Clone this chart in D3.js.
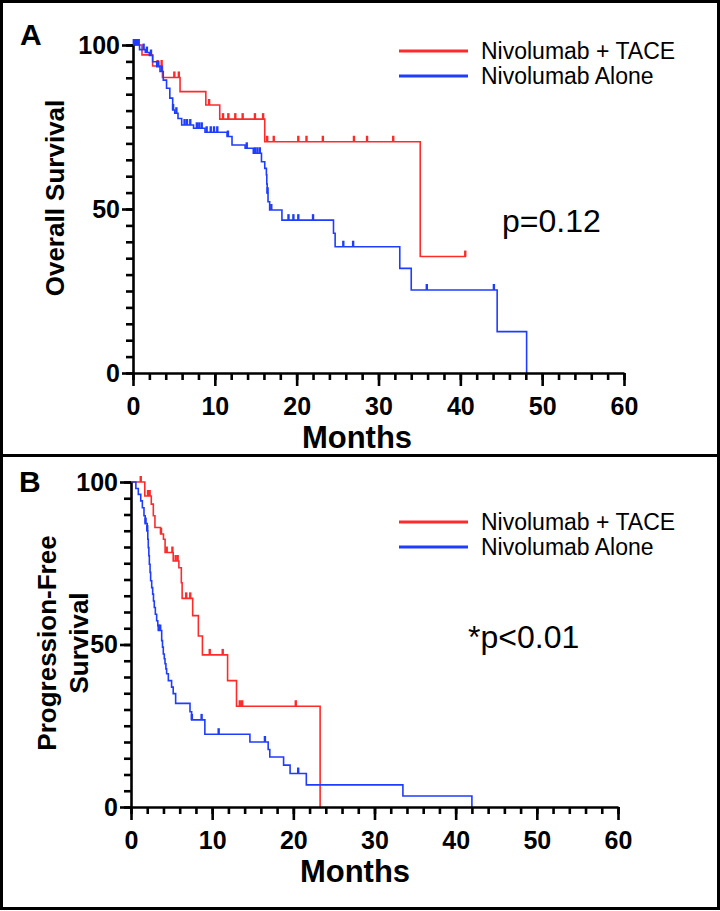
<!DOCTYPE html>
<html><head><meta charset="utf-8">
<script src="https://cdn.jsdelivr.net/npm/d3@7/dist/d3.min.js"></script>
<style>
html,body{margin:0;padding:0;background:#fff;}
svg{display:block;font-family:"Liberation Sans",Arial,Helvetica,sans-serif;}
</style></head>
<body>
<svg id="chart" width="720" height="911"></svg>
<script>
// ---------- DATA ----------
const seriesNames = ["Nivolumab + TACE", "Nivolumab Alone"];
const xTickLabels = [0, 10, 20, 30, 40, 50, 60];
const yTickLabels = [0, 50, 100];

// Panel A: Overall survival  [month, survival % after event]
const osTaceEvents = [[1.1,97.0],[2.4,93.6],[3.6,90.1],[5.75,85.8],[8.9,81.7],[10.6,77.4],[16.1,70.5],[35.1,35.5]];
const osTaceCensor = [3.0,3.5,5.05,5.6,9.3,11.0,11.65,12.5,13.4,14.9,15.9,16.4,17.2,20.2,21.2,23.2,27.0,28.6,31.8,40.6];
const osTaceEnd = 40.7;

const osAloneEvents = [[0.8,98.6],[1.5,97.7],[2.0,96.8],[2.4,94.9],[2.9,93.4],[3.3,91.9],[3.7,89.3],[4.1,86.8],[4.5,83.8],[4.85,80.2],[5.1,79.2],[5.5,77.6],[5.95,75.6],[7.4,74.6],[8.8,73.4],[11.5,72.1],[12.1,69.5],[13.7,68.5],[14.7,67.0],[15.7,64.4],[16.1,62.4],[16.3,60.4],[16.35,57.6],[16.4,54.8],[16.5,52.2],[16.7,49.7],[18.2,46.6],[24.5,42.6],[24.7,38.5],[32.6,31.9],[34.0,25.3],[44.5,12.6],[48.1,0]];
const osAloneCensor = [0.1,0.3,0.5,0.7,1.3,1.7,2.2,3.1,3.5,4.9,5.3,6.3,6.6,7.0,7.8,8.1,8.4,9.0,9.5,9.9,10.3,11.6,13.9,14.9,15.2,15.5,16.45,16.9,19.0,19.6,20.2,22.0,25.7,26.9,35.9,44.1];
const osAloneEnd = 48.1;

// Panel B: Progression-free survival
const pfsTaceEvents = [[1.7,95.7],[2.5,93.2],[2.75,89.6],[2.95,86.0],[3.65,84.0],[4.0,82.4],[4.2,78.3],[5.2,75.7],[5.9,73.6],[6.2,69.0],[6.3,64.2],[7.6,58.9],[8.3,52.6],[8.8,46.8],[11.9,38.9],[13.0,31.0],[23.3,0]];
const pfsTaceCensor = [1.2,2.1,2.3,3.7,4.4,5.1,5.5,5.75,6.8,7.3,9.7,11.3,13.4,13.7,20.3];
const pfsTaceEnd = 23.3;

const pfsAloneEvents = [[0.6,98.0],[0.9,96.2],[1.2,94.2],[1.4,92.1],[1.6,89.6],[1.75,87.2],[2.0,84.9],[2.07,82.4],[2.13,79.8],[2.2,77.3],[2.26,74.7],[2.35,72.2],[2.42,69.6],[2.55,67.5],[2.67,65.5],[2.77,63.4],[2.87,61.4],[3.0,59.3],[3.16,57.3],[3.3,55.8],[3.37,54.3],[3.78,51.2],[3.88,49.2],[3.98,47.1],[4.1,45.6],[4.19,44.1],[4.3,42.5],[4.39,41.0],[4.6,38.9],[5.0,36.9],[5.2,34.9],[5.5,31.9],[7.27,29.3],[7.47,26.8],[9.1,22.4],[14.65,20.0],[16.9,17.7],[17.1,15.4],[18.8,12.9],[19.6,10.3],[21.6,6.8],[33.5,3.4],[42.0,0]];
const pfsAloneCensor = [1.8,2.0,3.45,3.6,7.5,8.7,10.8,16.5,20.6];
const pfsAloneEnd = 42.0;

// ---------- DRAW ----------
const colors = ["#ff2a2a", "#1f3dff"];
const svg = d3.select("#chart");

// frames
svg.append("rect").attr("x",1.5).attr("y",1.5).attr("width",717).attr("height",454)
  .attr("fill","none").attr("stroke","#000").attr("stroke-width",3);
svg.append("rect").attr("x",1.5).attr("y",455.5).attr("width",717).attr("height",453)
  .attr("fill","none").attr("stroke","#000").attr("stroke-width",3);

function survAt(events, t){
  let s = 100;
  for (const e of events){ if (e[0] <= t) s = e[1]; else break; }
  return s;
}

function drawPanel(cfg){
  const g = svg.append("g");
  const x = d3.scaleLinear().domain([0,60]).range([cfg.x0, cfg.x1]);
  const y = d3.scaleLinear().domain([0,100]).range([cfg.yBot, cfg.yTop]);

  // curves
  cfg.series.forEach((s, i) => {
    const pts = [[0,100]].concat(s.events);
    const last = pts[pts.length-1];
    if (last[0] < s.end) pts.push([s.end, last[1]]);
    g.append("path").datum(pts)
      .attr("d", d3.line().x(d=>x(d[0])).y(d=>y(d[1])).curve(d3.curveStepAfter))
      .attr("fill","none").attr("stroke",colors[i]).attr("stroke-width",1.6);
    g.selectAll(null).data(s.censor).enter().append("line")
      .attr("x1", t=>x(t)).attr("x2", t=>x(t))
      .attr("y1", t=>y(survAt(s.events,t))).attr("y2", t=>y(survAt(s.events,t))-6)
      .attr("stroke",colors[i]).attr("stroke-width",2.4);
  });

  // axes
  const axStyle = sel => { sel.selectAll("path,line").attr("stroke","#000").attr("stroke-width",2.6); };
  const xMinor = g.append("g").attr("transform",`translate(0,${cfg.yBot})`)
    .call(d3.axisBottom(x).tickValues(d3.range(0,61,2)).tickSize(7).tickFormat(""));
  xMinor.select(".domain").remove();
  axStyle(xMinor);
  const xMajor = g.append("g").attr("transform",`translate(0,${cfg.yBot})`)
    .call(d3.axisBottom(x).tickValues(xTickLabels).tickSize(13).tickSizeOuter(0).tickPadding(11));
  axStyle(xMajor);
  xMajor.selectAll("text").attr("font-size",25).attr("font-weight","bold").attr("fill","#000")
    .attr("font-family","Liberation Sans, Arial, sans-serif");

  const yMinor = g.append("g").attr("transform",`translate(${cfg.x0},0)`)
    .call(d3.axisLeft(y).tickValues(d3.range(0,101,5)).tickSize(7).tickFormat(""));
  yMinor.select(".domain").remove();
  axStyle(yMinor);
  const yMajor = g.append("g").attr("transform",`translate(${cfg.x0},0)`)
    .call(d3.axisLeft(y).tickValues(yTickLabels).tickSize(11).tickSizeOuter(0).tickPadding(2));
  axStyle(yMajor);
  yMajor.selectAll("text").attr("font-size",25).attr("font-weight","bold").attr("fill","#000")
    .attr("font-family","Liberation Sans, Arial, sans-serif");

  // axis titles
  g.append("text").attr("x",cfg.monthsX).attr("y",cfg.yBot+75).attr("text-anchor","middle")
    .attr("font-size",31).attr("font-weight","bold").text("Months");
  cfg.yTitle.forEach((line, k) => {
    g.append("text").attr("transform",`translate(${cfg.yTitleX + k*32},${cfg.yTitleY}) rotate(-90)`)
      .attr("text-anchor","middle").attr("font-size",26).attr("font-weight","bold").text(line);
  });

  // panel letter
  g.append("text").attr("x",cfg.letterX).attr("y",cfg.letterY).attr("font-size",30)
    .attr("font-weight","bold").text(cfg.letter);

  // legend
  seriesNames.forEach((n, i) => {
    const ly = cfg.legendY + i*25;
    g.append("line").attr("x1",399).attr("x2",468).attr("y1",ly).attr("y2",ly)
      .attr("stroke",colors[i]).attr("stroke-width",3.2);
    g.append("text").attr("x",481).attr("y",ly).attr("dy","0.35em").attr("font-size",23).text(n);
  });

  // p value
  g.append("text").attr("x",cfg.pX).attr("y",cfg.pY).attr("font-size",32).text(cfg.pText);
}

drawPanel({
  x0:133, x1:624, yTop:45, yBot:373,
  series:[{events:osTaceEvents, censor:osTaceCensor, end:osTaceEnd},
          {events:osAloneEvents, censor:osAloneCensor, end:osAloneEnd}],
  monthsX:357, yTitle:["Overall Survival"], yTitleX:64, yTitleY:198,
  letter:"A", letterX:20, letterY:45, legendY:51, pX:502, pY:232, pText:"p=0.12"
});
drawPanel({
  x0:131, x1:618, yTop:482, yBot:807,
  series:[{events:pfsTaceEvents, censor:pfsTaceCensor, end:pfsTaceEnd},
          {events:pfsAloneEvents, censor:pfsAloneCensor, end:pfsAloneEnd}],
  monthsX:355, yTitle:["Progression-Free","Survival"], yTitleX:56, yTitleY:643,
  letter:"B", letterX:19, letterY:492, legendY:522, pX:468, pY:648, pText:"*p<0.01"
});
</script>
</body></html>
